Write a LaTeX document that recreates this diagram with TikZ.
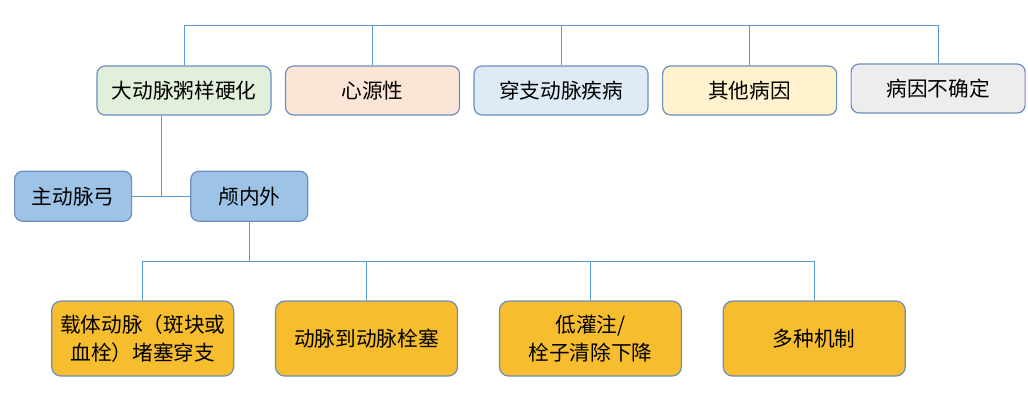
\documentclass[tikz,border=0pt]{standalone}
\usepackage{fontspec}
\newfontfamily\cjkfont{Noto Sans CJK SC}
\usetikzlibrary{positioning, calc}
\definecolor{boxline}{HTML}{6C8EBF}
\definecolor{linkblue}{HTML}{5B9BD5}
\definecolor{athgreen}{HTML}{E2EFDA}
\definecolor{cardpeach}{HTML}{FBE5D6}
\definecolor{perfblue}{HTML}{DEEBF7}
\definecolor{othercream}{HTML}{FFF2CC}
\definecolor{unkgray}{HTML}{EDEDED}
\definecolor{siteblue}{HTML}{9DC3E6}
\definecolor{mechgold}{HTML}{F6BD2F}
\tikzset{
  % Top row: stroke cause categories
  cause/.style={
    draw=boxline, line width=0.9pt, rounded corners=6pt,
    minimum width=130.5pt, minimum height=36.75pt, text centered,
    inner sep=3pt, font=\cjkfont\fontsize{15.5}{21}\selectfont
  },
  % Middle row: plaque location
  site/.style={
    draw=boxline, line width=0.9pt, rounded corners=6pt, fill=siteblue,
    minimum width=87.75pt, minimum height=37.5pt, text centered,
    inner sep=3pt, font=\cjkfont\fontsize{15.5}{21}\selectfont
  },
  % Bottom row: mechanisms
  mech/.style={
    draw=boxline, line width=0.9pt, rounded corners=7pt, fill=mechgold,
    minimum width=136.5pt, minimum height=56.25pt, align=center,
    inner sep=3pt, font=\cjkfont\fontsize{15.5}{21}\selectfont
  },
  % Tree connector
  link/.style={
    draw=linkblue, line width=0.75pt
  }
}
\begin{document}
\begin{tikzpicture}[x=0.75pt, y=-0.75pt, node distance=0pt and 10pt]
\useasboundingbox (0,0) rectangle (1028,404);

% ============================================================
% TOP ROW -- cause categories
% ============================================================
\node[cause, fill=athgreen] (athero) at (184,90.5) {大动脉粥样硬化};
\node[cause, fill=cardpeach,  right=of athero]  (cardio)  {心源性};
\node[cause, fill=perfblue,   right=of cardio]  (perf)    {穿支动脉疾病};
\node[cause, fill=othercream, right=of perf]    (other)   {其他病因};
\node[cause, fill=unkgray,    right=of other, yshift=1.5pt] (unknown) {病因不确定};

% ============================================================
% MIDDLE ROW -- location (under athero)
% ============================================================
\node[site, below=41.25pt of athero, xshift=49pt] (intra) {颅内外};
\node[site, left=43.5pt of intra]                 (arch)  {主动脉弓};

% ============================================================
% BOTTOM ROW -- mechanisms (under intra)
% ============================================================
\node[mech, below=59pt of intra, xshift=-80pt] (carrier) {载体动脉（斑块或\\血栓）堵塞穿支};
\node[mech, right=30.5pt of carrier] (a2a)   {动脉到动脉栓塞};
\node[mech, right=30.5pt of a2a]     (hypo)  {低灌注/\\栓子清除下降};
\node[mech, right=30.5pt of hypo]    (multi) {多种机制};

% ============================================================
% CONNECTORS
% ============================================================
\coordinate[above=30pt of athero.north] (topbus);
\coordinate (junc) at ($(arch.east)!0.5!(intra.west)$);
\coordinate[below=30pt of intra.south] (lowbus);

% -- top bus over the five causes --
\draw[link] (athero.north) |- (unknown.north |- topbus) -- (unknown.north);
\draw[link] (cardio.north) -- (cardio.north |- topbus);
\draw[link] (perf.north)   -- (perf.north |- topbus);
\draw[link] (other.north)  -- (other.north |- topbus);

% -- athero splits into arch / intra --
\draw[link] (arch.east) -- (intra.west);
\draw[link] (junc |- athero.south) -- (junc);

% -- intra fans out to the mechanisms --
\draw[link] (intra.south) -- (lowbus);
\draw[link] (carrier.north) |- (multi.north |- lowbus) -- (multi.north);
\draw[link] (a2a.north)  -- (a2a.north |- lowbus);
\draw[link] (hypo.north) -- (hypo.north |- lowbus);

\end{tikzpicture}
\end{document}
